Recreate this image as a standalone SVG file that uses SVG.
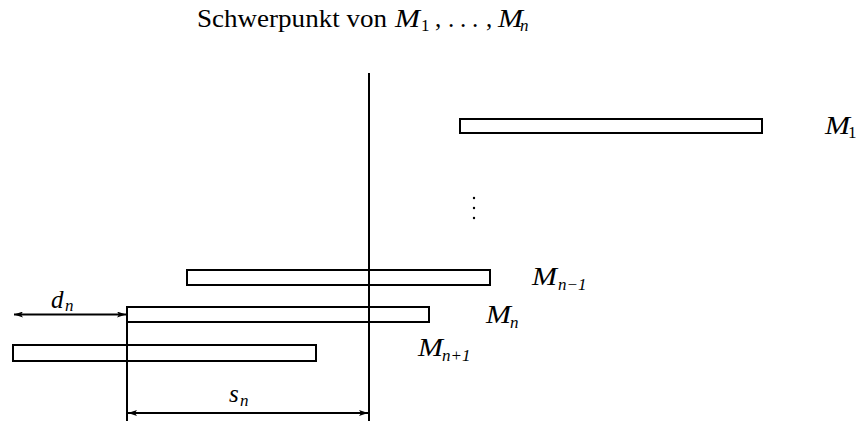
<svg xmlns="http://www.w3.org/2000/svg" width="867" height="421" viewBox="0 0 867 421">
<style>
.bar{fill:none;stroke:#000;stroke-width:2}
.ln{stroke:#000;stroke-width:2;fill:none}
text{font-family:'Liberation Serif','DejaVu Serif',serif;fill:#000}
.t{font-size:25px}
.m{font-style:italic;font-size:25px}
.sub{font-size:17px}
.subi{font-style:italic;font-size:17px}
</style>
<defs>
<marker id="ah" viewBox="0 0 9 6" refX="9" refY="3" markerWidth="9" markerHeight="6" markerUnits="userSpaceOnUse" orient="auto-start-reverse">
<path d="M0,0 L9,3 L0,6 L2,3 Z" fill="#000"/>
</marker>
</defs>
<rect width="867" height="421" fill="#fff"/>
<g id="title">
<text x="197" y="27" class="t" textLength="190" lengthAdjust="spacingAndGlyphs">Schwerpunkt von</text>
<text x="395" y="27" class="m" textLength="25" lengthAdjust="spacingAndGlyphs">M</text>
<text x="421" y="31" class="sub">1</text>
<text x="435" y="27" class="t">,</text>
<text x="448" y="27" class="t">.</text>
<text x="460" y="27" class="t">.</text>
<text x="472" y="27" class="t">.</text>
<text x="486" y="27" class="t">,</text>
<text x="498" y="27" class="m" textLength="25" lengthAdjust="spacingAndGlyphs">M</text>
<text x="520" y="31" class="subi">n</text>
</g>
<g id="connectors">
<line x1="369" y1="73" x2="369" y2="421" class="ln"/>
<line x1="127" y1="307" x2="127" y2="421" class="ln"/>
<line x1="14" y1="314.5" x2="126" y2="314.5" class="ln" stroke-width="1.5" marker-start="url(#ah)" marker-end="url(#ah)"/>
<line x1="128" y1="413" x2="368" y2="413" class="ln" marker-start="url(#ah)" marker-end="url(#ah)"/>
</g>
<g id="M1">
<rect x="460" y="119" width="302" height="14" class="bar"/>
<text x="825" y="134" class="m" textLength="25" lengthAdjust="spacingAndGlyphs">M</text>
<text x="848" y="138" class="sub">1</text>
</g>
<g id="dots">
<circle cx="474" cy="198" r="1.2" fill="#000"/>
<circle cx="474" cy="208" r="1.2" fill="#000"/>
<circle cx="474" cy="218" r="1.2" fill="#000"/>
</g>
<g id="Mn-1">
<rect x="187" y="270" width="303" height="15" class="bar"/>
<text x="532" y="285" class="m" textLength="25" lengthAdjust="spacingAndGlyphs">M</text>
<text x="558" y="290" class="subi">n<tspan class="sub">−1</tspan></text>
</g>
<g id="Mn">
<rect x="127" y="307" width="302" height="15" class="bar"/>
<text x="486" y="323" class="m" textLength="25" lengthAdjust="spacingAndGlyphs">M</text>
<text x="510" y="328" class="subi">n</text>
</g>
<g id="Mn+1">
<rect x="13" y="345" width="303" height="16" class="bar"/>
<text x="418" y="356" class="m" textLength="25" lengthAdjust="spacingAndGlyphs">M</text>
<text x="442" y="361" class="subi">n<tspan class="sub">+1</tspan></text>
</g>
<g id="dn">
<text x="51" y="308" class="m">d</text>
<text x="65" y="311" class="subi">n</text>
</g>
<g id="sn">
<text x="229" y="402" class="m">s</text>
<text x="240" y="406" class="subi">n</text>
</g>
</svg>
